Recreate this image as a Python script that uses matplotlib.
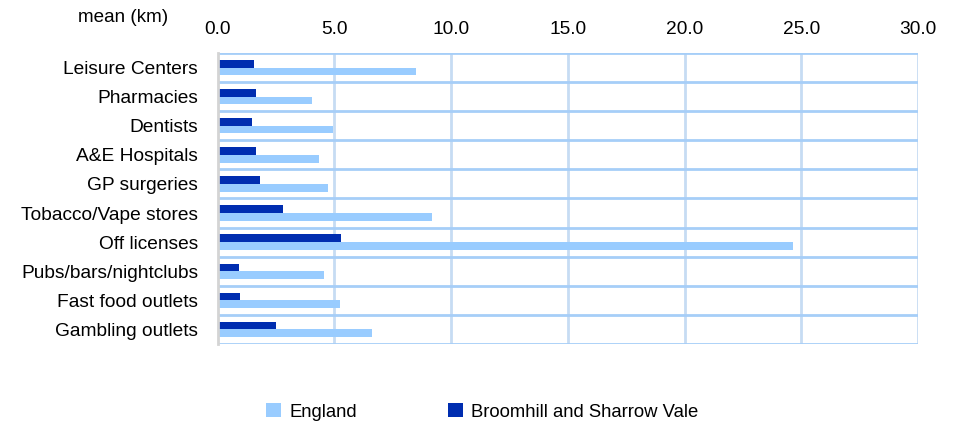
import matplotlib
matplotlib.use("Agg")
import matplotlib.pyplot as plt
from matplotlib.patches import Patch
import numpy as np

categories = ["Leisure Centers", "Pharmacies", "Dentists", "A&E Hospitals", "GP surgeries",
              "Tobacco/Vape stores", "Off licenses", "Pubs/bars/nightclubs",
              "Fast food outlets", "Gambling outlets"]
england = [8.48, 4.06, 4.96, 4.36, 4.74, 9.2, 24.65, 4.57, 5.26, 6.63]
broomhill = [1.57, 1.65, 1.48, 1.65, 1.82, 2.81, 5.3, 0.92, 0.97, 2.51]
xticks = [0, 5, 10, 15, 20, 25, 30]
series_names = ["England", "Broomhill and Sharrow Vale"]

plt.rcParams['font.family'] = ['Liberation Sans', 'DejaVu Sans']
FS = 13.8
LIGHT = "#99ccff"
DARK = "#002db0"

fig = plt.figure(figsize=(9.55, 4.22), dpi=100)
ax = fig.add_axes([217.5/955, 1-344/422, (918-217.5)/955, (344-53)/422])

y = np.arange(len(categories))
h = 0.265
ax.barh(y - h/2, broomhill, height=h, color=DARK, zorder=3)
ax.barh(y + h/2, england, height=h, color=LIGHT, zorder=3)

ax.set_xlim(0, 30)
ax.set_ylim(len(categories) - 0.5, -0.5)
ax.set_xticks(xticks)
ax.set_xticklabels([f"{t:.1f}" for t in xticks], fontsize=FS)
ax.xaxis.tick_top()
ax.tick_params(axis='x', length=0, pad=11)
ax.set_yticks(y)
ax.set_yticklabels(categories, fontsize=FS)
ax.tick_params(axis='y', length=0, pad=14)

for xv in xticks[1:]:
    ax.axvline(xv, color="#c6dcf3", lw=2, zorder=1)
for yv in np.arange(-0.5, len(categories) + 0.5, 1.0):
    ax.axhline(yv, color="#a6cef8", lw=2, zorder=1)

for s in ["top", "bottom", "right"]:
    ax.spines[s].set_visible(False)
ax.spines["left"].set_color("#d4d4d4")
ax.spines["left"].set_linewidth(2)
ax.spines["left"].set_zorder(4)

fig.text(123/955, 1-17/422, "mean (km)", fontsize=13.6, ha="center", va="center")

handles = [Patch(facecolor=LIGHT), Patch(facecolor=DARK)]
fig.legend(handles, series_names, loc="center left", bbox_to_anchor=(266/955, 1-412/422),
           ncol=2, frameon=False, fontsize=13.3, handlelength=0.8, handleheight=0.75,
           handletextpad=0.45, columnspacing=4.95, borderpad=0, borderaxespad=0)

fig.savefig("out.png", dpi=100)
